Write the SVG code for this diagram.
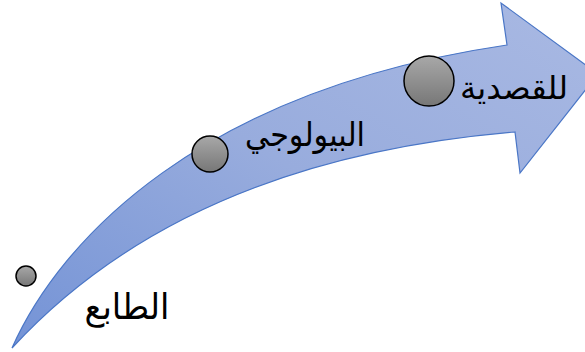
<svg xmlns="http://www.w3.org/2000/svg" width="585" height="352" viewBox="0 0 585 352">
<defs>
<linearGradient id="arrowGrad" x1="0" y1="1" x2="1" y2="0">
<stop offset="0" stop-color="#7493d6"/>
<stop offset="0.5" stop-color="#98acdd"/>
<stop offset="1" stop-color="#a9b9e3"/>
</linearGradient>
<linearGradient id="ballGrad" x1="0" y1="0" x2="0" y2="1">
<stop offset="0" stop-color="#a8a8a8"/>
<stop offset="1" stop-color="#777777"/>
</linearGradient>
<style>
.arrow{fill:url(#arrowGrad);stroke:#4a76c6;stroke-width:1.2;stroke-linejoin:miter}
.ball{fill:url(#ballGrad);stroke:#000;stroke-width:1.5}
.lbl{font-family:"Liberation Sans","DejaVu Sans",sans-serif;fill:#000;text-anchor:middle}
</style>
</defs>
<g id="arrow">
<path class="arrow" d="M12,348 C60,240 200,90 507,45 L501,3 L598,74 L520,173 L515,132 C300,150 130,220 12,348 Z"/>
</g>
<g id="connectors"/>
<g id="node-taba">
<circle class="ball" cx="26" cy="276" r="10"/>
<text class="lbl" x="127" y="319" font-size="35" textLength="85" lengthAdjust="spacingAndGlyphs">الطابع</text>
</g>
<g id="node-bio">
<circle class="ball" cx="210" cy="154" r="18"/>
<text class="lbl" x="305" y="146" font-size="33" textLength="120" lengthAdjust="spacingAndGlyphs">البيولوجي</text>
</g>
<g id="node-qasd">
<circle class="ball" cx="429" cy="81" r="25"/>
<text class="lbl" x="514" y="99" font-size="32" textLength="108" lengthAdjust="spacingAndGlyphs">للقصدية</text>
</g>
</svg>
